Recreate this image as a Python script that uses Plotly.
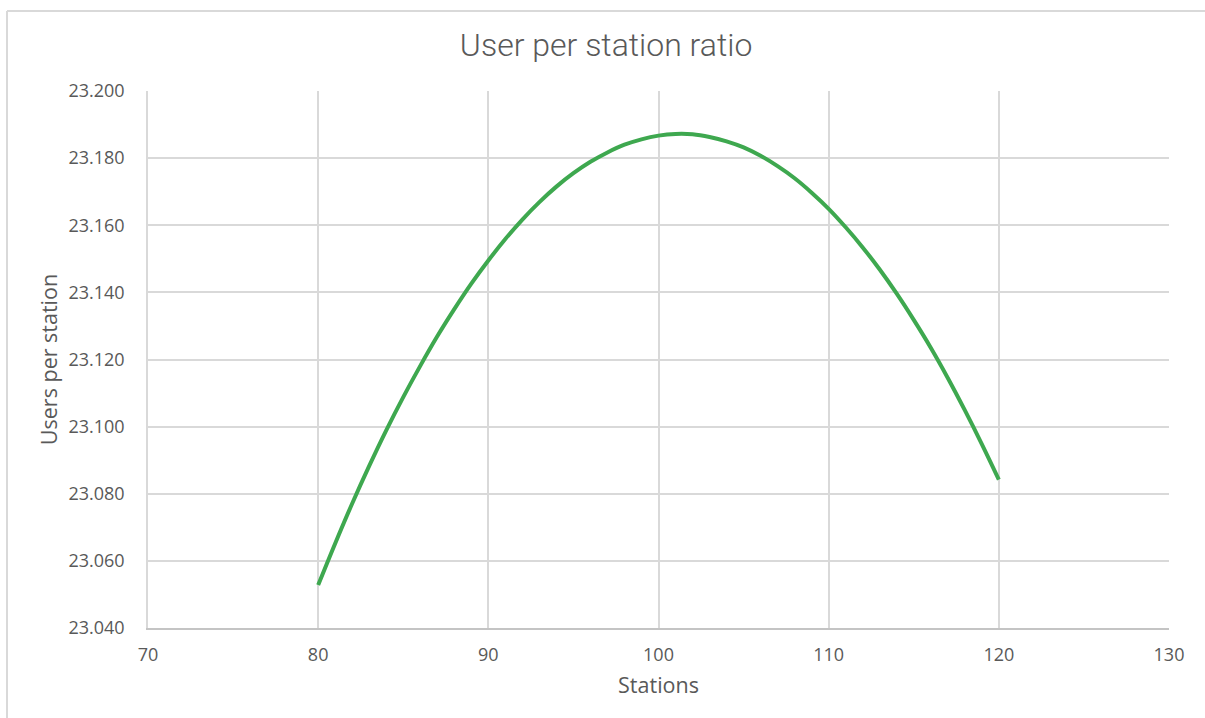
import plotly.graph_objects as go

stations = list(range(80, 121))
users_per_station = [
    23.0528, 23.0652, 23.0771, 23.0883, 23.0989, 23.1088, 23.1181, 23.1269,
    23.1350, 23.1426, 23.1495, 23.1559, 23.1617, 23.1669, 23.1715, 23.1755,
    23.1789, 23.1817, 23.1840, 23.1856, 23.1867, 23.1872, 23.1871, 23.1863,
    23.1850, 23.1832, 23.1807, 23.1776, 23.1740, 23.1697, 23.1649, 23.1594,
    23.1534, 23.1468, 23.1396, 23.1318, 23.1235, 23.1145, 23.1049, 23.0948,
    23.0842,
]
x_ticks = [70, 80, 90, 100, 110, 120, 130]
y_ticks = [23.04, 23.06, 23.08, 23.10, 23.12, 23.14, 23.16, 23.18, 23.20]

TEXT = "#595959"
GRID = "#d9d9d9"

fig = go.Figure()
fig.add_trace(go.Scatter(
    x=stations, y=users_per_station, mode="lines",
    line=dict(color="#3EA84F", width=4, shape="spline"),
    hoverinfo="x+y", showlegend=False,
))

fig.update_layout(
    width=1205, height=718,
    margin=dict(l=148, r=36, t=91, b=90),
    paper_bgcolor="white", plot_bgcolor="white",
    title=dict(text="User per station ratio", x=0.503, xref="container",
               y=1 - 45 / 718, yref="container", xanchor="center", yanchor="middle",
               font=dict(family="Roboto", size=32, color=TEXT, weight=300)),
    font=dict(family="Open Sans", color=TEXT),
    shapes=[
        dict(type="line", xref="paper", yref="paper",
             x0=-0.1381, x1=1.04, y0=1.149, y1=1.149,
             line=dict(color=GRID, width=2)),
        dict(type="line", xref="paper", yref="paper",
             x0=-0.1381, x1=-0.1381, y0=1.149, y1=-0.2,
             line=dict(color=GRID, width=2)),
    ],
)

fig.update_xaxes(
    range=[70, 130], tickvals=x_ticks, ticktext=[str(v) for v in x_ticks],
    showgrid=True, gridcolor=GRID, gridwidth=1.5,
    showline=True, linecolor="#c4c4c4", linewidth=2,
    zeroline=False, ticks="outside", ticklen=9, tickcolor="rgba(0,0,0,0)",
    tickfont=dict(family="Open Sans", size=18, color=TEXT),
    title=dict(text="Stations", standoff=13,
               font=dict(family="Open Sans", size=21.5, color=TEXT)),
)
fig.update_yaxes(
    range=[23.04, 23.20], tickvals=y_ticks, ticktext=[f"{v:.3f}" for v in y_ticks],
    showgrid=True, gridcolor=GRID, gridwidth=1.5,
    showline=True, linecolor=GRID, linewidth=1.5, mirror=False,
    zeroline=False, ticks="outside", ticklen=18, tickcolor="rgba(0,0,0,0)",
    tickfont=dict(family="Open Sans", size=18, color=TEXT),
    title=dict(text="Users per station", standoff=5,
               font=dict(family="Open Sans", size=21.5, color=TEXT)),
)

fig.write_html("out.html")
